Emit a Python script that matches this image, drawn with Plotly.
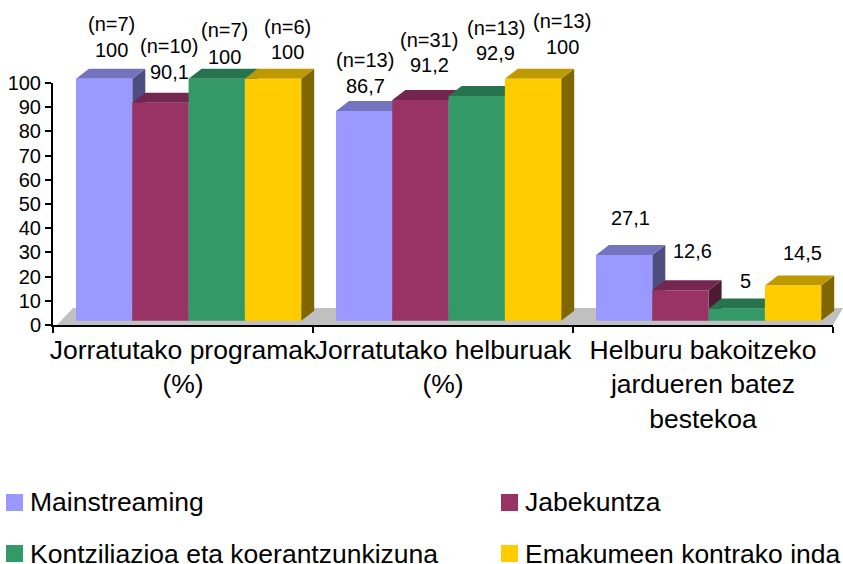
import plotly.graph_objects as go

categories = ["Jorratutako programak<br>(%)", "Jorratutako helburuak<br>(%)", "Helburu bakoitzeko<br>jardueren batez<br>bestekoa"]
mainstreaming = [100, 86.7, 27.1]
jabekuntza = [90.1, 91.2, 12.6]
kontziliazioa = [100, 92.9, 5]
emakumeen = [100, 100, 14.5]
n_mainstreaming = ["(n=7)", "(n=13)", ""]
n_jabekuntza = ["(n=10)", "(n=31)", ""]
n_kontziliazioa = ["(n=7)", "(n=13)", ""]
n_emakumeen = ["(n=6)", "(n=13)", ""]
series_names = ["Mainstreaming", "Jabekuntza", "Kontziliazioa eta koerantzunkizuna", "Emakumeen kontrako inda"]
y_ticks = list(range(0, 101, 10))

series = [mainstreaming, jabekuntza, kontziliazioa, emakumeen]
ns = [n_mainstreaming, n_jabekuntza, n_kontziliazioa, n_emakumeen]
front = ["#9999FF", "#993366", "#339966", "#FFCC00"]
top = ["#7373BF", "#732650", "#26734D", "#BF9900"]
side = ["#4D4D80", "#4D1A33", "#1A4D33", "#806600"]

W, H = 843, 564
L, R, T, B = 53, 833, 83, 325
cat_px = (R - L) / 3
unit_px = (B - T) / 100
LEFT = 23 / cat_px
BW = 56.3 / cat_px
DX = 13 / cat_px
DY = 10 / unit_px
LIFT = 4.3 / unit_px

label_x = [[7, 9, 8, 14], [1, 9, 19, 29], [6, 12, 9, 9]]
label_y = [[50, 72, 57, 52], [86, 65, 53, 47], [218, 251, 281, 253]]
n_y = [[24, 46, 30, 27], [60, 40, 28, 21], [0, 0, 0, 0]]

fig = go.Figure()

def poly(xs, ys, color):
    fig.add_trace(go.Scatter(x=xs + xs[:1], y=ys + ys[:1], xaxis="x", yaxis="y", mode="lines",
                             fill="toself", fillcolor=color, line=dict(width=0, color=color),
                             hoverinfo="skip", showlegend=False))

poly([4 / cat_px, 20 / cat_px, 3 + 10 / cat_px, 3], [0, 17 / unit_px, 17 / unit_px, 0], "#C0C0C0")

annotations = []
for c in range(3):
    for s in range(4):
        v = series[s][c]
        x0 = c + LEFT + s * BW
        x1 = x0 + BW
        y0, y1 = LIFT, v + LIFT
        poly([x1, x1 + DX, x1 + DX, x1], [y0, y0 + DY, y1 + DY, y1], side[s])
        poly([x0, x0 + DX, x1 + DX, x1], [y1, y1 + DY, y1 + DY, y1], top[s])
        poly([x0, x1, x1, x0], [y0, y0, y1, y1], front[s])
        cx = (x0 + x1) / 2
        annotations.append(dict(x=cx, y=v, xref="x2", yref="y2", text=str(v).replace(".", ","),
                                showarrow=False, xshift=label_x[c][s],
                                yshift=(B - v * unit_px) - label_y[c][s],
                                font=dict(size=20, color="#000000")))
        if ns[s][c]:
            annotations.append(dict(x=cx, y=v, xref="x2", yref="y2", text=ns[s][c],
                                    showarrow=False, xshift=label_x[c][s],
                                    yshift=(B - v * unit_px) - n_y[c][s],
                                    font=dict(size=20, color="#000000")))

swatch_x = [6, 501, 6, 501]
swatch_y = [494, 494, 545, 545]
PW, PH = W - L, B
shapes = []
for i, name in enumerate(series_names):
    sx, sy = swatch_x[i], swatch_y[i]
    shapes.append(dict(type="rect", xref="paper", yref="paper",
                       x0=(sx - L) / PW, x1=(sx + 17 - L) / PW,
                       y0=(B - sy - 17) / PH, y1=(B - sy) / PH,
                       fillcolor=front[i], line=dict(width=0), layer="above"))
    annotations.append(dict(xref="paper", yref="paper", x=(sx + 22 - L) / PW,
                            y=(B - sy - 8.5) / PH, xanchor="left", yanchor="middle",
                            text=name, showarrow=False, font=dict(size=26.5, color="#000000")))

fig.add_trace(go.Scatter(x=[None], y=[None], xaxis="x2", yaxis="y2", showlegend=False, hoverinfo="skip"))

hidden = dict(visible=False, showgrid=False, zeroline=False)
fig.update_layout(
    width=W, height=H,
    margin=dict(l=L, r=0, t=0, b=H - B, autoexpand=False),
    paper_bgcolor="#FFFFFF", plot_bgcolor="rgba(0,0,0,0)",
    font=dict(family="Liberation Sans, Arial, sans-serif", color="#000000"),
    showlegend=False, annotations=annotations, shapes=shapes,
    xaxis=dict(range=[0, PW / cat_px], domain=[0, 1], anchor="y", **hidden),
    yaxis=dict(range=[0, PH / unit_px], domain=[0, 1], anchor="x", **hidden),
    xaxis2=dict(range=[0, 3], domain=[0, (R - L) / PW], anchor="y2",
                tickmode="array", tickvals=[0.5, 1.5, 2.5], ticktext=categories, tickangle=0,
                ticks="", tickfont=dict(size=26.5), showgrid=False, zeroline=False,
                showline=True, linecolor="#000000", linewidth=2,
                minor=dict(tickmode="array", tickvals=[0, 1, 2, 3], ticks="outside",
                           ticklen=6, tickwidth=2, tickcolor="#000000", showgrid=False)),
    yaxis2=dict(range=[0, 100], domain=[0, (B - T) / PH], anchor="x2",
                tickmode="array", tickvals=y_ticks, ticks="outside",
                ticklen=6, tickwidth=2, tickcolor="#000000", tickfont=dict(size=20),
                showgrid=False, zeroline=False, showline=True, linecolor="#000000", linewidth=2),
)
fig.write_html("out.html", config=dict(displayModeBar=False),
               post_script="document.body.style.margin='0';document.body.style.overflow='hidden';")
